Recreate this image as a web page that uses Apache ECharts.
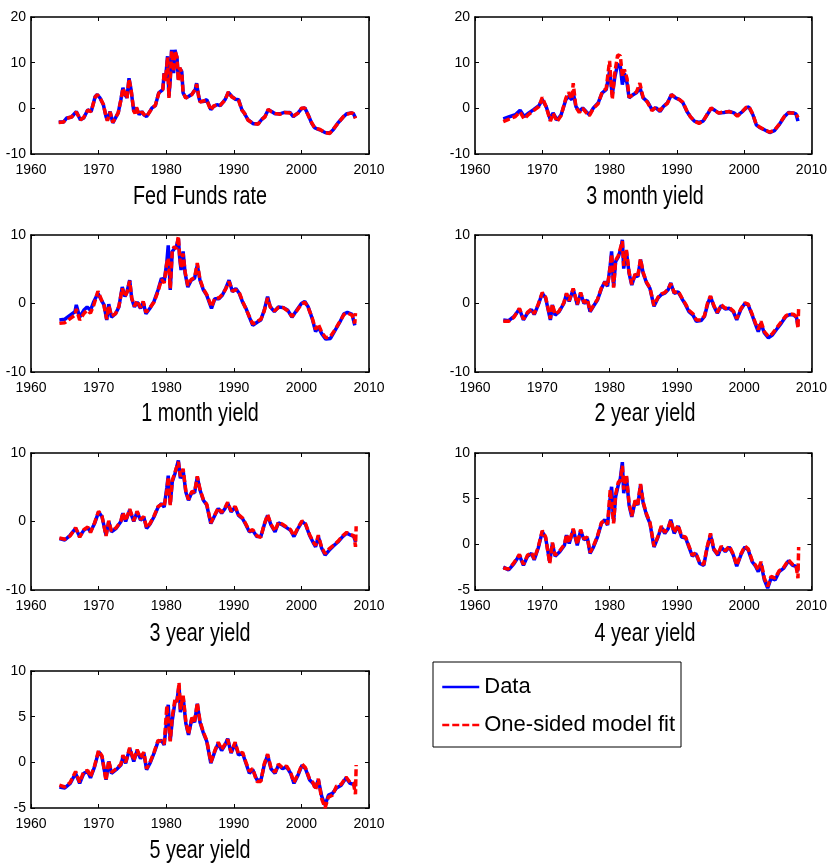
<!DOCTYPE html>
<html>
<head>
<meta charset="utf-8">
<script src="https://cdn.jsdelivr.net/npm/echarts@6/dist/echarts.min.js"></script>
<style>
html,body{margin:0;padding:0;background:#fff;}
#chart{width:830px;height:865px;}
</style>
</head>
<body>
<div id="chart"></div>
<script>
// ---------- Data ----------
const xTicks = [1960, 1970, 1980, 1990, 2000, 2010];

const ffYears = [1964.1,1964.8,1965.3,1966,1966.7,1967.3,1967.8,1968.4,1968.9,1969.5,1969.8,1970.2,1970.7,1971.1,1971.3,1971.7,1972.1,1972.5,1972.9,1973.3,1973.6,1973.9,1974.2,1974.5,1974.8,1975.2,1975.4,1975.6,1976,1976.4,1976.7,1977.1,1977.9,1978.4,1978.9,1979.5,1979.7,1979.9,1980.2,1980.4,1980.6,1980.8,1981.1,1981.3,1981.6,1981.8,1982,1982.3,1982.5,1982.9,1983.3,1983.8,1984.3,1984.5,1984.8,1985,1985.5,1986,1986.6,1987,1987.5,1988,1988.7,1989.2,1989.7,1990.2,1990.7,1991.2,1991.6,1992.1,1992.9,1993.6,1994.1,1994.6,1995.1,1995.6,1996.1,1996.8,1997.5,1998.3,1998.8,1999.5,2000,2000.5,2001,2001.5,2002,2002.7,2003.5,2004.2,2004.7,2005.4,2006.2,2006.7,2007.4,2007.7,2008];
const ffData = [-3.0,-3.0,-2.1,-1.9,-0.7,-2.5,-2.1,-0.3,-0.7,2.6,3.0,2.3,0.8,-1.8,-2.6,-0.7,-3.2,-2.1,-1.0,1.9,4.5,3.0,2.3,6.6,4.1,-0.7,-1.0,0.1,-1.4,-0.7,-1.4,-1.8,0.1,0.6,3.4,4.1,7.7,6.3,11.4,2.6,6.3,12.8,7.7,12.8,11.0,6.3,8.8,8.1,3.4,2.3,2.6,3.1,4.1,5.5,2.6,1.5,1.5,1.9,-0.3,0.4,0.8,0.6,1.9,3.5,2.6,2.0,1.9,-0.3,-1.2,-2.5,-3.4,-3.4,-2.5,-1.8,-0.3,-0.7,-1.2,-1.2,-0.9,-0.9,-1.8,-1.0,-0.1,0.1,-1.4,-3.2,-4.3,-4.7,-5.3,-5.4,-4.7,-3.2,-1.9,-1.2,-1.0,-1.2,-2.1];
const ffFit = [-3.1,-3.0,-2.2,-1.9,-0.8,-2.5,-2.0,-0.4,-0.7,2.5,3.0,2.3,0.9,-1.8,-2.7,-0.8,-3.1,-2.0,-1.0,1.8,4.4,3.1,2.2,6.4,4.2,-0.6,-1.1,0.2,-1.4,-0.8,-1.3,-1.8,0.0,0.7,3.3,4.2,7.8,6.0,11.2,2.3,6.5,12.6,8.0,12.5,11.2,6.0,8.9,7.9,3.5,2.2,2.7,3.0,4.2,5.3,2.7,1.4,1.6,1.8,-0.4,0.5,0.7,0.7,1.8,3.6,2.5,2.1,1.8,-0.4,-1.1,-2.6,-3.3,-3.5,-2.4,-1.9,-0.2,-0.8,-1.1,-1.3,-0.9,-1.0,-1.7,-1.1,0.0,0.1,-1.5,-3.1,-4.4,-4.6,-5.3,-5.5,-4.6,-3.3,-1.8,-1.3,-1.0,-1.1,-2.2];

const m3Years = [1964.2,1965,1966,1966.7,1967.3,1968,1968.7,1969.5,1970,1970.6,1971.2,1971.6,1972.2,1972.8,1973.5,1973.9,1974.4,1974.6,1975,1975.5,1976,1976.5,1977,1977.6,1978.3,1978.9,1979.5,1980,1980.4,1980.8,1981.2,1981.6,1981.9,1982.2,1982.6,1982.9,1983.5,1984,1984.5,1985,1985.6,1986.3,1986.9,1987.5,1988,1988.6,1989.2,1989.8,1990.4,1990.9,1991.5,1992,1992.6,1993.3,1993.9,1994.5,1995.1,1995.6,1996.2,1997,1997.8,1998.5,1999,1999.6,2000.3,2000.7,2001.3,2001.8,2002.3,2003,2003.8,2004.5,2005.2,2006,2006.6,2007.3,2007.7,2008];
const m3Data = [-2.3,-1.9,-1.4,-0.4,-1.8,-1.0,-0.3,0.6,1.9,0.3,-2.5,-1.0,-2.6,-1.4,1.9,2.6,1.9,3.4,0.4,-0.7,0.1,-0.7,-1.4,0.1,1.2,3.4,4.1,8.1,3.0,7.0,9.6,9.2,5.2,7.7,5.5,2.3,3.0,3.4,4.5,2.3,1.5,-0.3,0.1,-0.7,0.4,1.2,3.0,2.3,1.9,1.2,-0.7,-1.8,-2.8,-3.1,-2.8,-1.4,0.0,-0.4,-1.0,-0.9,-0.7,-1.0,-1.6,-0.9,0.1,0.3,-1.4,-3.6,-4.2,-4.7,-5.3,-4.9,-3.6,-1.8,-0.9,-1.0,-1.2,-2.8];
const m3Fit = [-2.9,-2.4,-1.8,-0.8,-2.3,-1.3,-0.5,0.4,2.4,0.2,-2.8,-1.1,-2.9,-1.6,2.2,3.5,2.0,5.5,0.2,-0.9,0.0,-0.9,-1.6,0.0,1.0,3.6,4.3,10.4,2.0,8.0,11.7,11.5,7.0,8.5,6.5,2.4,3.0,3.6,5.5,2.3,1.4,-0.5,0.3,-0.5,0.4,1.1,3.0,2.4,1.9,1.3,-0.6,-1.8,-2.8,-3.3,-2.8,-1.3,0.1,-0.5,-1.0,-0.8,-0.7,-1.1,-1.7,-0.9,0.2,0.4,-1.3,-3.5,-4.1,-4.7,-5.2,-4.8,-3.5,-1.7,-1.0,-1.0,-1.1,-2.0];

const m1Years = [1964.2,1965,1965.8,1966.5,1966.7,1967.2,1967.8,1968.3,1968.8,1969.3,1969.9,1970.4,1970.8,1971.2,1971.5,1971.9,1972.5,1973,1973.5,1973.9,1974.2,1974.6,1974.9,1975.3,1975.7,1976.2,1976.6,1977,1977.6,1978.2,1978.8,1979.3,1979.7,1980.1,1980.3,1980.6,1980.9,1981.2,1981.5,1981.8,1982,1982.2,1982.5,1982.8,1983.2,1983.7,1984.2,1984.6,1985,1985.5,1986,1986.7,1987.2,1987.8,1988.3,1988.8,1989.3,1989.8,1990.3,1990.8,1991.3,1991.8,1992.3,1992.8,1993.5,1994,1994.5,1995,1995.4,1996,1996.6,1997.3,1998,1998.6,1999.3,2000,2000.5,2001,2001.6,2002.1,2002.5,2003,2003.6,2004.3,2005,2005.7,2006.3,2006.8,2007.5,2007.9,2008.0];
const m1Data = [-2.4,-2.3,-1.7,-1.2,-0.2,-2.0,-1.0,-0.5,-1.0,0.3,1.5,0.5,-0.2,-2.4,-0.1,-2.0,-1.5,-0.5,2.4,1.0,1.7,3.4,0.7,-0.5,0.2,-0.7,0.2,-1.5,-0.7,0.3,2.0,3.7,3.2,6.1,8.5,2.0,7.6,8.0,8.3,9.5,6.6,4.9,7.6,4.4,2.4,3.4,3.7,5.6,3.4,2.0,1.2,-0.7,0.7,0.7,1.2,2.2,3.4,1.7,2.2,1.5,0.2,-0.7,-2.0,-3.2,-2.7,-2.4,-1.0,1.0,-0.5,-1.2,-0.5,-0.6,-1.0,-2.0,-1.0,0.0,0.3,-0.5,-2.2,-4.1,-3.4,-4.4,-5.2,-5.1,-3.9,-2.7,-1.5,-1.3,-1.6,-3.2,null];
const m1Fit = [-2.9,-2.8,-2.2,-1.7,-0.8,-2.4,-1.5,-1.0,-1.4,-0.2,1.8,0.6,-0.3,-2.3,-0.3,-1.8,-1.5,-0.4,2.2,1.0,1.6,3.3,0.8,-0.4,0.4,-0.6,0.3,-1.3,-0.6,0.2,1.8,3.5,3.0,6.0,6.6,2.2,7.8,8.3,8.0,9.8,6.8,5.2,7.3,4.6,2.6,3.5,3.8,5.9,3.5,2.1,1.3,-0.5,0.8,0.8,1.3,2.1,3.2,1.8,2.0,1.6,0.3,-0.8,-1.9,-3.0,-2.6,-2.3,-1.1,0.8,-0.5,-1.1,-0.6,-0.6,-1.1,-1.9,-1.1,-0.1,0.2,-0.6,-2.1,-3.8,-3.0,-4.2,-5.0,-4.8,-3.8,-2.6,-1.6,-1.4,-1.7,-2.9,-1.4];

const y2Years = [1964.2,1965,1965.8,1966.6,1967.2,1967.8,1968.4,1968.8,1969.4,1970,1970.5,1971.2,1971.5,1971.9,1972.5,1973.2,1973.6,1974,1974.6,1975.2,1975.7,1976.2,1976.7,1977.1,1977.6,1978.2,1978.8,1979.3,1979.7,1980.1,1980.3,1980.6,1980.9,1981.3,1981.7,1981.9,1982.1,1982.5,1982.9,1983.3,1983.8,1984.2,1984.6,1985,1985.5,1986,1986.6,1987.2,1987.7,1988.2,1988.7,1989.1,1989.6,1990.2,1990.7,1991.3,1991.8,1992.4,1992.9,1993.6,1994.1,1994.6,1995,1995.5,1996,1996.6,1997.2,1997.8,1998.4,1998.9,1999.5,2000.1,2000.6,2001.2,2001.7,2002.1,2002.5,2003,2003.6,2004.2,2004.8,2005.5,2006.2,2006.8,2007.4,2007.8,2008,2008.1];
const y2Data = [-2.4,-2.5,-1.9,-0.8,-2.4,-1.4,-0.9,-1.6,-0.2,1.5,0.8,-2.4,-0.2,-1.7,-1.2,0.0,1.4,0.3,2.1,-0.2,1.5,0.0,0.5,-1.2,-0.4,0.5,2.2,3.2,2.5,5.6,7.6,2.5,6.1,6.8,8.1,9.3,5.1,7.6,4.4,2.7,4.2,3.9,6.4,4.4,3.0,2.2,-0.4,0.8,1.3,1.5,2.0,3.0,1.5,1.7,0.8,-0.2,-1.2,-1.7,-2.6,-2.5,-1.9,0.0,1.0,-0.4,-1.4,-0.3,-0.8,-0.7,-1.2,-2.4,-0.9,0.0,-0.2,-1.7,-3.1,-4.1,-2.9,-4.3,-5.0,-4.6,-3.8,-2.9,-1.9,-1.6,-1.7,-2.1,-3.3,null];
const y2Fit = [-2.6,-2.6,-2.0,-0.7,-2.3,-1.3,-0.8,-1.5,-0.1,1.6,0.9,-2.2,-0.1,-1.6,-1.1,0.1,1.5,0.4,2.2,-0.1,1.6,0.1,0.6,-1.1,-0.3,0.6,2.3,3.1,2.6,5.4,7.2,2.3,6.3,7.0,8.4,9.1,5.5,7.8,4.6,2.8,4.3,4.0,6.5,4.5,3.1,2.3,-0.3,0.9,1.4,1.6,2.1,2.9,1.6,1.8,0.9,-0.1,-1.0,-1.5,-2.4,-2.4,-1.8,0.2,1.1,-0.3,-1.3,-0.2,-0.7,-0.6,-1.1,-2.2,-0.8,0.1,-0.1,-1.6,-2.9,-3.8,-2.6,-4.1,-4.8,-4.4,-3.6,-2.7,-1.8,-1.5,-1.6,-2.0,-3.6,-0.6];

const y3Years = [1964.2,1965,1965.8,1966.6,1967.2,1967.8,1968.4,1968.8,1969.4,1970,1970.5,1971.1,1971.5,1971.9,1972.6,1973.3,1973.6,1974,1974.6,1975.2,1975.7,1976.2,1976.7,1977.1,1977.6,1978.2,1978.8,1979.3,1979.7,1980.1,1980.3,1980.6,1980.9,1981.3,1981.8,1982.1,1982.5,1982.9,1983.3,1983.8,1984.2,1984.6,1985,1985.5,1986,1986.6,1987.2,1987.7,1988.2,1988.7,1989.1,1989.6,1990.2,1990.7,1991.3,1991.8,1992.3,1992.8,1993.4,1994,1994.5,1995,1995.5,1996.1,1996.6,1997.2,1997.8,1998.4,1998.9,1999.5,2000.1,2000.6,2001.2,2001.7,2002.1,2002.5,2003,2003.5,2004.1,2004.7,2005.4,2006.1,2006.7,2007.3,2007.8,2008,2008.1];
const y3Data = [-2.5,-2.7,-2.0,-1.0,-2.2,-1.3,-0.9,-1.5,-0.3,1.4,0.7,-2.0,0.0,-1.5,-1.0,0.0,1.2,0.0,1.7,0.0,1.4,0.2,0.6,-1.0,-0.4,0.7,2.1,2.6,2.1,5.0,6.7,2.6,5.8,7.0,8.9,6.3,7.5,4.3,3.1,4.3,4.2,6.5,4.6,3.1,2.4,-0.3,0.9,1.9,1.2,1.9,2.7,1.4,2.1,0.9,0.4,-0.5,-1.5,-1.3,-2.2,-2.2,-0.5,0.9,-0.5,-1.5,-0.2,-0.5,-0.9,-1.3,-2.2,-1.0,0.0,-0.4,-2.0,-3.0,-3.7,-2.2,-3.9,-4.9,-4.2,-3.6,-3.0,-2.2,-1.7,-2.0,-2.2,-3.0,null];
const y3Fit = [-2.4,-2.6,-2.1,-0.9,-2.3,-1.2,-0.8,-1.6,-0.2,1.5,0.8,-2.1,0.1,-1.4,-0.9,0.1,1.3,0.1,1.8,0.1,1.5,0.3,0.7,-0.9,-0.3,0.8,2.2,2.5,2.2,4.6,6.5,2.4,6.0,7.2,8.7,6.6,7.7,4.5,3.2,4.4,4.3,6.6,4.7,3.2,2.5,-0.2,1.0,2.0,1.3,2.0,2.8,1.5,2.2,1.0,0.5,-0.4,-1.4,-1.2,-2.1,-2.3,-0.4,1.0,-0.4,-1.4,-0.1,-0.4,-0.8,-1.2,-2.1,-0.9,0.1,-0.3,-1.9,-2.9,-3.5,-2.0,-3.8,-4.7,-4.0,-3.5,-2.9,-2.1,-1.6,-1.9,-2.1,-3.7,-0.7];

const y4Years = [1964.2,1965,1965.8,1966.6,1967.2,1967.8,1968.4,1968.8,1969.4,1970,1970.5,1971.1,1971.5,1971.9,1972.6,1973.3,1973.6,1974,1974.6,1975.2,1975.7,1976.2,1976.7,1977.1,1977.6,1978.2,1978.8,1979.3,1979.7,1980.1,1980.3,1980.6,1980.9,1981.3,1981.6,1981.9,1982.1,1982.5,1982.9,1983.3,1983.8,1984.2,1984.6,1985,1985.5,1986,1986.6,1987.2,1987.7,1988.2,1988.7,1989.1,1989.6,1990.2,1990.7,1991.3,1991.8,1992.3,1992.8,1993.4,1994,1994.5,1995,1995.5,1996.1,1996.6,1997.2,1997.8,1998.4,1998.9,1999.5,2000.1,2000.6,2001.2,2001.7,2002.1,2002.5,2003,2003.5,2004,2004.6,2005.2,2005.9,2006.6,2007.2,2007.7,2008,2008.1];
const y4Data = [-2.5,-2.8,-2.1,-1.2,-2.3,-1.3,-1.0,-1.7,-0.4,1.4,0.7,-1.9,0.1,-1.3,-0.8,-0.1,1.0,0.1,1.6,-0.1,1.5,0.5,0.7,-1.0,-0.3,0.8,2.3,2.7,2.1,5.2,6.3,2.5,5.2,6.5,7.2,9.0,5.6,7.4,4.3,3.0,4.7,4.3,6.5,4.5,3.2,2.3,-0.3,0.8,1.9,1.2,1.7,2.7,1.2,2.0,0.8,0.7,-0.3,-1.3,-1.0,-2.1,-2.3,-0.4,1.0,-0.6,-1.2,-0.3,-0.8,-0.3,-1.2,-2.4,-1.2,-0.3,-0.6,-1.9,-2.4,-3.0,-2.1,-3.9,-4.8,-3.7,-3.9,-3.0,-2.6,-1.8,-2.3,-2.4,-3.0,null];
const y4Fit = [-2.6,-2.7,-2.0,-1.1,-2.2,-1.2,-0.9,-1.6,-0.3,1.5,0.8,-2.1,0.2,-1.2,-0.7,0.0,1.1,0.2,1.7,0.0,1.6,0.6,0.8,-0.9,-0.2,0.9,2.4,2.6,2.2,6.0,6.0,2.3,5.5,6.8,7.0,8.6,6.0,7.6,4.5,3.1,4.8,4.4,6.6,4.6,3.3,2.4,-0.2,0.9,2.0,1.3,1.8,2.6,1.3,2.1,0.9,0.8,-0.2,-1.2,-0.9,-2.0,-2.2,-0.3,1.2,-0.5,-1.1,-0.2,-0.7,-0.2,-1.1,-2.3,-1.1,-0.2,-0.5,-1.8,-2.3,-2.8,-1.9,-3.7,-4.6,-3.5,-3.7,-2.9,-2.5,-1.7,-2.2,-2.3,-3.7,-0.3];

const y5Years = [1964.2,1965,1965.8,1966.6,1967.2,1967.8,1968.4,1968.8,1969.4,1970,1970.5,1971.1,1971.5,1971.9,1972.6,1973.3,1973.6,1974,1974.6,1975.2,1975.7,1976.2,1976.7,1977.1,1977.6,1978.2,1978.8,1979.3,1979.7,1980.1,1980.3,1980.6,1980.9,1981.3,1981.6,1981.9,1982.1,1982.5,1982.9,1983.3,1983.8,1984.2,1984.6,1985,1985.5,1986,1986.6,1987.2,1987.7,1988.2,1988.7,1989.1,1989.6,1990.2,1990.7,1991.3,1991.8,1992.3,1992.8,1993.4,1994,1994.5,1995,1995.5,1996.1,1996.6,1997.2,1997.8,1998.4,1998.9,1999.5,2000.1,2000.6,2001.2,2001.7,2002.1,2002.5,2003,2003.5,2004,2004.6,2005.2,2005.9,2006.6,2007.2,2007.7,2008,2008.1];
const y5Data = [-2.7,-2.8,-2.3,-1.2,-2.3,-1.2,-1.0,-1.7,-0.5,1.2,0.6,-1.9,0.1,-1.2,-0.8,-0.3,0.6,-0.1,1.5,0.1,1.3,0.4,1.0,-0.8,-0.1,1.0,2.3,2.4,1.9,4.8,6.3,2.4,4.6,6.6,6.8,8.4,5.5,7.2,4.3,3.0,4.8,4.4,6.4,4.4,3.2,2.3,-0.1,1.2,2.1,1.3,1.9,2.6,1.0,2.1,0.8,1.0,-0.1,-1.2,-0.8,-1.9,-2.0,-0.3,0.8,-0.7,-1.2,-0.3,-0.7,-0.5,-1.2,-2.3,-1.4,-0.3,-0.7,-1.9,-2.3,-2.8,-1.9,-3.7,-4.7,-3.6,-3.4,-2.8,-2.5,-1.7,-2.3,-2.4,-2.7,null];
const y5Fit = [-2.5,-2.7,-2.2,-1.0,-2.2,-1.0,-0.9,-1.6,-0.4,1.3,0.7,-2.0,0.2,-1.1,-0.7,-0.2,0.8,0.0,1.6,0.2,1.4,0.5,1.1,-0.7,0.0,1.1,2.4,2.3,2.0,6.2,6.0,2.3,5.0,6.9,6.6,8.7,5.8,7.3,4.5,3.1,4.9,4.5,6.5,4.5,3.3,2.4,0.0,1.3,2.2,1.4,2.0,2.5,1.1,2.2,0.9,1.1,0.0,-1.0,-0.7,-2.1,-2.1,-0.2,0.9,-0.6,-1.1,-0.2,-0.6,-0.4,-1.1,-2.2,-1.3,-0.2,-0.6,-1.8,-2.2,-3.0,-1.8,-4.0,-5.0,-3.8,-3.6,-2.6,-2.4,-1.6,-2.2,-2.3,-3.5,-0.3];

const panelTitles = ['Fed Funds rate','3 month yield','1 month yield','2 year yield','3 year yield','4 year yield','5 year yield'];
const yRanges = [[-10,20,10],[-10,20,10],[-10,10,10],[-10,10,10],[-10,10,10],[-5,10,5],[-5,10,5]];
const legendNames = ['Data','One-sided model fit'];

// ---------- Build chart ----------
const panels = [
  [ffYears, ffData, ffFit],
  [m3Years, m3Data, m3Fit],
  [m1Years, m1Data, m1Fit],
  [y2Years, y2Data, y2Fit],
  [y3Years, y3Data, y3Fit],
  [y4Years, y4Data, y4Fit],
  [y5Years, y5Data, y5Fit]
];

const SANS = '"Liberation Sans", Arial, Helvetica, sans-serif';
const colLeft = [31, 475], colWidth = [338, 340];
const rowTop = [17, 235, 453, 671], gridH = 137;
const titleY = [197, 414, 634, 851];

function zip(xs, ys) {
  return xs.map((x, i) => [x, ys[i] === undefined ? null : ys[i]]);
}

const grids = [], xAxes = [], yAxes = [], series = [], graphics = [];
panels.forEach((p, i) => {
  const col = i % 2, row = Math.floor(i / 2);
  grids.push({ left: colLeft[col], top: rowTop[row], width: colWidth[col], height: gridH, containLabel: false });
  const axisCommon = {
    gridIndex: i,
    axisLine: { show: true, onZero: false, lineStyle: { color: '#000', width: 1.6 } },
    axisTick: { show: true, inside: true, length: 4, lineStyle: { color: '#000', width: 1 } },
    splitLine: { show: false }
  };
  const xMin = xTicks[0], xMax = xTicks[xTicks.length - 1], xInt = xTicks[1] - xTicks[0];
  xAxes.push(Object.assign({}, axisCommon, {
    type: 'value', position: 'bottom', min: xMin, max: xMax, interval: xInt,
    axisLabel: { show: true, margin: 9, color: '#000', fontSize: 14, fontFamily: SANS, formatter: v => String(v) }
  }));
  xAxes.push(Object.assign({}, axisCommon, {
    type: 'value', position: 'top', min: xMin, max: xMax, interval: xInt,
    axisLabel: { show: false }
  }));
  const [ymin, ymax, yint] = yRanges[i];
  yAxes.push(Object.assign({}, axisCommon, {
    type: 'value', position: 'left', min: ymin, max: ymax, interval: yint,
    axisLabel: { show: true, margin: 5, color: '#000', fontSize: 14, fontFamily: SANS, formatter: v => String(v) }
  }));
  yAxes.push(Object.assign({}, axisCommon, {
    type: 'value', position: 'right', min: ymin, max: ymax, interval: yint,
    axisLabel: { show: false }
  }));
  series.push({
    name: legendNames[0], type: 'line', xAxisIndex: 2 * i, yAxisIndex: 2 * i,
    data: zip(p[0], p[1]), symbol: 'none', showSymbol: false, clip: true,
    lineStyle: { color: '#0000ff', width: 3.5 }, itemStyle: { color: '#0000ff' }, z: 2
  });
  series.push({
    name: legendNames[1], type: 'line', xAxisIndex: 2 * i, yAxisIndex: 2 * i,
    data: zip(p[0], p[2]), symbol: 'none', showSymbol: false, clip: true,
    lineStyle: { color: '#ff0000', width: 3.5, type: [7, 3] }, itemStyle: { color: '#ff0000' }, z: 3
  });
  graphics.push({
    type: 'text', x: colLeft[col] + colWidth[col] / 2, y: titleY[row], scaleX: 0.76,
    style: { text: panelTitles[i], fill: '#000', font: '26px ' + SANS, textAlign: 'center', textVerticalAlign: 'middle' }
  });
});

const chart = echarts.init(document.getElementById('chart'), null, { renderer: 'canvas' });
chart.setOption({
  animation: false,
  backgroundColor: '#fff',
  grid: grids,
  xAxis: xAxes,
  yAxis: yAxes,
  series: series,
  graphic: graphics,
  legend: {
    data: legendNames, orient: 'vertical', left: 433, top: 662,
    padding: [14, 6, 11, 8], itemWidth: 37, itemHeight: 14, itemGap: 16,
    borderColor: '#000', borderWidth: 1, backgroundColor: '#fff',
    itemStyle: { opacity: 0 },
    lineStyle: { width: 2.5 },
    textStyle: { color: '#000', fontSize: 22, fontFamily: SANS }
  }
});
</script>
</body>
</html>
